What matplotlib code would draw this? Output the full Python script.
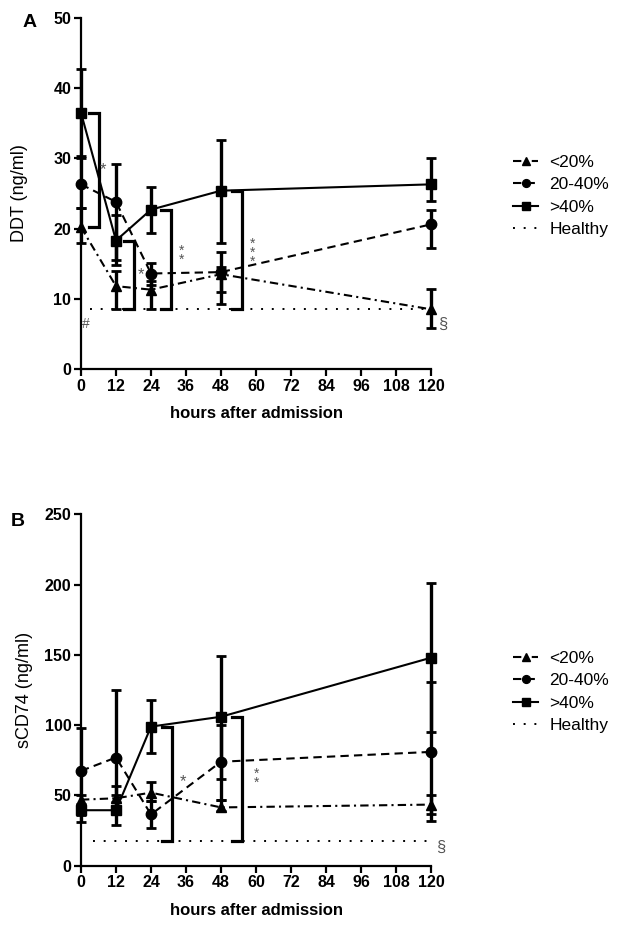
import numpy as np
import matplotlib
matplotlib.use('Agg')
import matplotlib.pyplot as plt

plt.rcParams['font.family'] = ['Liberation Sans', 'DejaVu Sans']

# 時間軸
hours = [0, 12, 24, 48, 120]
xticks = [0, 12, 24, 36, 48, 60, 72, 84, 96, 108, 120]
labels = ['<20%', '20-40%', '>40%', 'Healthy']

# --- A: DDT (ng/ml) ---
ddt_lt20 = [20.2, 11.8, 11.3, 13.5, 8.5]
ddt_lt20_lo = [18.0, 8.5, 8.5, 9.3, 5.9]
ddt_lt20_hi = [23.0, 14.0, 12.5, 14.5, 11.4]
ddt_mid = [26.3, 23.8, 13.6, 13.8, 20.6]
ddt_mid_lo = [23.0, 15.5, 12.0, 11.0, 17.2]
ddt_mid_hi = [30.4, 29.2, 15.1, 16.6, 22.6]
ddt_gt40 = [36.5, 18.3, 22.7, 25.4, 26.3]
ddt_gt40_lo = [30.0, 14.8, 19.4, 18.0, 23.9]
ddt_gt40_hi = [42.8, 22.0, 25.9, 32.6, 30.1]
ddt_healthy = 8.6

# --- B: sCD74 (ng/ml) ---
cd74_lt20 = [47.0, 48.0, 52.0, 41.5, 43.5]
cd74_lt20_lo = [42.0, 40.0, 46.0, 39.0, 37.0]
cd74_lt20_hi = [50.0, 57.0, 59.5, 47.0, 50.0]
cd74_mid = [67.5, 77.0, 36.5, 74.0, 81.0]
cd74_mid_lo = [36.0, 50.0, 26.5, 47.0, 32.0]
cd74_mid_hi = [98.0, 125.0, 46.0, 100.0, 131.0]
cd74_gt40 = [39.5, 39.5, 99.0, 106.0, 148.0]
cd74_gt40_lo = [31.0, 29.0, 80.0, 62.0, 95.0]
cd74_gt40_hi = [44.0, 45.0, 118.0, 149.0, 201.0]
cd74_healthy = 17.5

STAR_COLOR = '#555555'


def draw_series(ax, y, lo, hi, marker, ls, label):
    y = np.array(y)
    yerr = [y - np.array(lo), np.array(hi) - y]
    ax.errorbar(hours, y, yerr=yerr, fmt='none', ecolor='black',
                elinewidth=2.4, capsize=3.5, capthick=2.0, clip_on=False, zorder=3)
    ax.plot(hours, y, color='black', linestyle=ls, linewidth=1.5,
            marker=marker, markersize=7.5, markerfacecolor='black',
            markeredgecolor='black', clip_on=False, label=label, zorder=4)


def bracket(ax, x, top, bottom, width=3.5):
    # 有意差の括弧
    ax.plot([x - width, x, x, x - width], [top, top, bottom, bottom],
            color='black', linewidth=2.3, solid_joinstyle='miter', zorder=2)


def setup_axes(ax, ymax, ystep, ylabel, ylabel_x):
    ax.set_xlim(0, 120)
    ax.set_ylim(0, ymax)
    ax.set_xticks(xticks)
    ax.set_yticks(np.arange(0, ymax + 1, ystep))
    for side in ['top', 'right']:
        ax.spines[side].set_visible(False)
    for side in ['left', 'bottom']:
        ax.spines[side].set_linewidth(1.6)
    ax.tick_params(direction='out', length=5, width=1.6, labelsize=11.5, pad=2)
    for t in ax.get_xticklabels() + ax.get_yticklabels():
        t.set_fontweight('bold')
    ax.set_xlabel('hours after admission', fontsize=12, fontweight='bold')
    ax.xaxis.set_label_coords(0.5, -0.105)
    ax.set_ylabel(ylabel, fontsize=13)
    ax.yaxis.set_label_coords(ylabel_x, 0.5)


fig = plt.figure(figsize=(6.25, 9.32), dpi=100)

ls_lt20 = (0, (4, 2, 1, 2))
ls_mid = (0, (4, 2.5))
ls_healthy = (0, (1, 4.5))

# ---------------- パネルA ----------------
axA = fig.add_axes([0.1296, 0.6041, 0.56, 0.3766])
draw_series(axA, ddt_lt20, ddt_lt20_lo, ddt_lt20_hi, '^', ls_lt20, labels[0])
draw_series(axA, ddt_mid, ddt_mid_lo, ddt_mid_hi, 'o', ls_mid, labels[1])
draw_series(axA, ddt_gt40, ddt_gt40_lo, ddt_gt40_hi, 's', '-', labels[2])
axA.plot([3, 120], [ddt_healthy, ddt_healthy], color='black', linestyle=ls_healthy,
         linewidth=1.4, label=labels[3], zorder=1)

bracket(axA, 6.2, ddt_gt40[0], ddt_lt20[0])
bracket(axA, 18.2, ddt_gt40[1], ddt_healthy)
bracket(axA, 31.0, ddt_gt40[2], ddt_healthy)
bracket(axA, 55.1, ddt_gt40[3], ddt_healthy)

axA.text(7.6, 28.4, '*', fontsize=12, color=STAR_COLOR, ha='center', va='center')
axA.text(20.6, 13.4, '*', fontsize=12, color=STAR_COLOR, ha='center', va='center')
axA.text(34.6, 16.2, '*\n*', fontsize=10, color=STAR_COLOR, ha='center', va='center', linespacing=0.55)
axA.text(58.8, 16.6, '*\n*\n*', fontsize=10, color=STAR_COLOR, ha='center', va='center', linespacing=0.55)
axA.text(1.7, 6.4, '#', fontsize=10, color=STAR_COLOR, ha='center', va='center')
axA.text(124.0, 6.4, '§', fontsize=12, color=STAR_COLOR, ha='center', va='center', clip_on=False)

setup_axes(axA, 50, 10, 'DDT (ng/ml)', -0.151)
axA.legend(loc='upper left', bbox_to_anchor=(0.821, 0.834), bbox_transform=fig.transFigure,
           frameon=False, fontsize=12.5, handlelength=1.45, handletextpad=0.65,
           labelspacing=0.42, borderpad=0, borderaxespad=0, markerscale=0.75)

# ---------------- パネルB ----------------
axB = fig.add_axes([0.1296, 0.0711, 0.56, 0.377])
draw_series(axB, cd74_lt20, cd74_lt20_lo, cd74_lt20_hi, '^', ls_lt20, labels[0])
draw_series(axB, cd74_mid, cd74_mid_lo, cd74_mid_hi, 'o', ls_mid, labels[1])
draw_series(axB, cd74_gt40, cd74_gt40_lo, cd74_gt40_hi, 's', '-', labels[2])
axB.plot([4, 120], [cd74_healthy, cd74_healthy], color='black', linestyle=ls_healthy,
         linewidth=1.4, label=labels[3], zorder=1)

bracket(axB, 31.3, cd74_gt40[2], cd74_healthy)
bracket(axB, 55.3, cd74_gt40[3], cd74_healthy)

axB.text(34.9, 60, '*', fontsize=12, color=STAR_COLOR, ha='center', va='center')
axB.text(60.2, 62.0, '*\n*', fontsize=10, color=STAR_COLOR, ha='center', va='center', linespacing=0.55)
axB.text(123.2, 13.0, '§', fontsize=12, color=STAR_COLOR, ha='center', va='center', clip_on=False)

setup_axes(axB, 250, 50, 'sCD74 (ng/ml)', -0.137)
axB.legend(loc='upper left', bbox_to_anchor=(0.821, 0.302), bbox_transform=fig.transFigure,
           frameon=False, fontsize=12.5, handlelength=1.45, handletextpad=0.65,
           labelspacing=0.42, borderpad=0, borderaxespad=0, markerscale=0.75)

# パネルラベル
fig.text(0.048, 0.976, 'A', fontsize=14, fontweight='bold', ha='center', va='center')
fig.text(0.029, 0.44, 'B', fontsize=14, fontweight='bold', ha='center', va='center')

fig.savefig('out.png', dpi=100, facecolor='white')
